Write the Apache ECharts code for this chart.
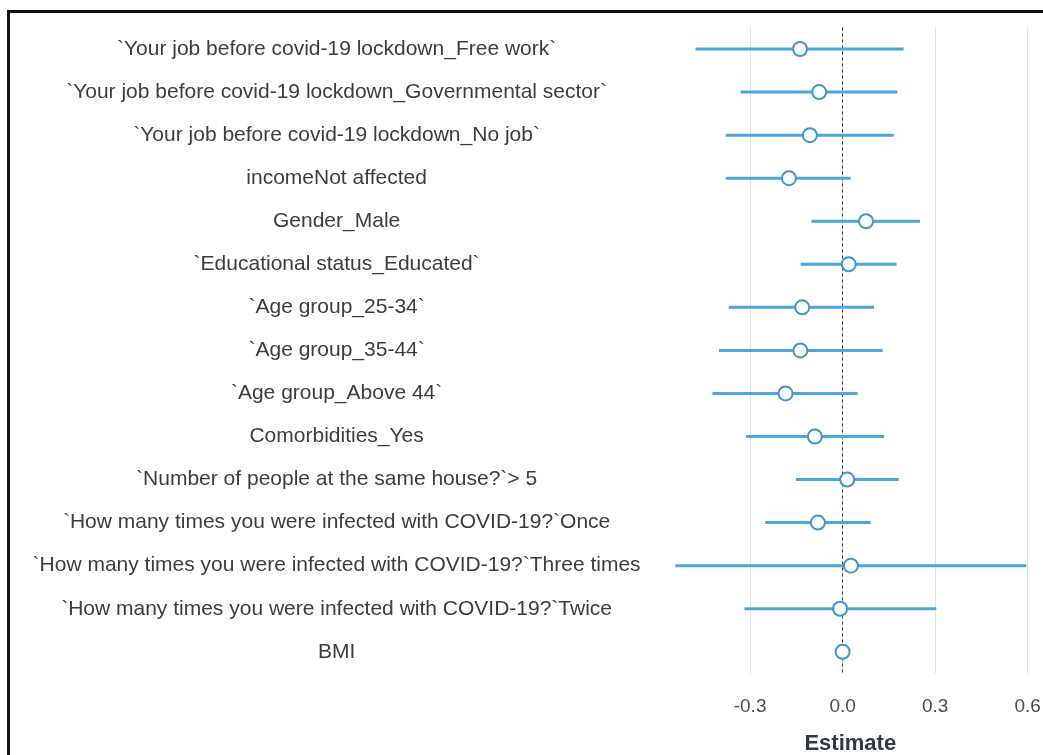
<!DOCTYPE html>
<html>
<head>
<meta charset="utf-8">
<script src="https://cdn.jsdelivr.net/npm/echarts@6/dist/echarts.min.js"></script>
<style>
html,body{margin:0;padding:0;background:#fff;}
#chart{width:1043px;height:755px;}
</style>
</head>
<body>
<div id="chart"></div>
<script>
const categories = [
  "`Your job before covid-19 lockdown_Free work`",
  "`Your job before covid-19 lockdown_Governmental sector`",
  "`Your job before covid-19 lockdown_No job`",
  "incomeNot affected",
  "Gender_Male",
  "`Educational status_Educated`",
  "`Age group_25-34`",
  "`Age group_35-44`",
  "`Age group_Above 44`",
  "Comorbidities_Yes",
  "`Number of people at the same house?`> 5",
  "`How many times you were infected with COVID-19?`Once",
  "`How many times you were infected with COVID-19?`Three times",
  "`How many times you were infected with COVID-19?`Twice",
  "BMI"
];
const estimates = [-0.138, -0.076, -0.106, -0.174, 0.076, 0.020, -0.131, -0.137, -0.185, -0.090, 0.015, -0.080, 0.027, -0.008, 0.000];
const lowerCI   = [-0.477, -0.331, -0.379, -0.379, -0.101, -0.136, -0.369, -0.401, -0.422, -0.313, -0.151, -0.251, -0.542, -0.318, -0.002];
const upperCI   = [0.198, 0.178, 0.166, 0.026, 0.251, 0.175, 0.102, 0.130, 0.049, 0.135, 0.182, 0.091, 0.596, 0.304, 0.002];
const xTickLabels = [-0.3, 0.0, 0.3, 0.6];
const xAxisTitle = "Estimate";

const lineColor = '#4aa8dc';
const pointStroke = '#3f97cb';
const font = 'Liberation Sans, Arial, sans-serif';

const chart = echarts.init(document.getElementById('chart'), null, {renderer: 'canvas'});

const ciData = categories.map((c, i) => [lowerCI[i], upperCI[i], i]);
const pointData = categories.map((c, i) => [estimates[i], i]);

const option = {
  backgroundColor: '#ffffff',
  animation: false,
  grid: {left: 657.6, right: 0, top: 27.5, height: 645.8, containLabel: false, outerBoundsMode: 'none'},
  graphic: [{
    type: 'rect',
    shape: {x: 8.5, y: 11.5, width: 1100, height: 800},
    style: {fill: 'none', stroke: '#111', lineWidth: 3},
    silent: true, z: 100
  }],
  xAxis: {
    type: 'value',
    min: -0.6, max: 0.65, interval: 0.3,
    axisLine: {show: false},
    axisTick: {show: false},
    splitLine: {show: true, showMinLine: false, showMaxLine: false, lineStyle: {color: '#e2e2e2', width: 1}},
    axisLabel: {
      margin: 24, fontSize: 19, color: '#4d4d4d', fontFamily: font,
      showMinLabel: false, showMaxLabel: false,
      formatter: function (v) {
        const t = xTickLabels.find(x => Math.abs(x - v) < 1e-6);
        return t === undefined ? '' : t.toFixed(1);
      }
    },
    name: xAxisTitle,
    nameLocation: 'middle',
    nameGap: 60,
    nameTextStyle: {fontSize: 22, fontWeight: 'bold', color: '#333a44', fontFamily: font}
  },
  yAxis: {
    type: 'category',
    data: categories,
    inverse: true,
    axisLine: {show: false},
    axisTick: {show: false},
    splitLine: {show: false},
    axisLabel: {
      align: 'center', margin: 321, fontSize: 21, color: '#3d3d3d',
      fontFamily: font, padding: [8, 0, 0, 0]
    }
  },
  series: [
    {
      type: 'custom',
      data: ciData,
      encode: {x: [0, 1], y: 2},
      renderItem: function (params, api) {
        const p1 = api.coord([api.value(0), api.value(2)]);
        const p2 = api.coord([api.value(1), api.value(2)]);
        return {
          type: 'line',
          shape: {x1: p1[0], y1: p1[1], x2: p2[0], y2: p2[1]},
          style: {stroke: lineColor, lineWidth: 3}
        };
      },
      z: 2,
      silent: true
    },
    {
      type: 'scatter',
      data: pointData,
      symbol: 'circle',
      symbolSize: 14,
      itemStyle: {color: '#ffffff', borderColor: pointStroke, borderWidth: 2, opacity: 1},
      z: 3,
      silent: true,
      markLine: {
        silent: true,
        symbol: 'none',
        label: {show: false},
        lineStyle: {color: '#333', width: 1, type: [3, 3]},
        data: [{xAxis: 0}],
        z: 1
      }
    }
  ]
};
chart.setOption(option);
</script>
</body>
</html>
